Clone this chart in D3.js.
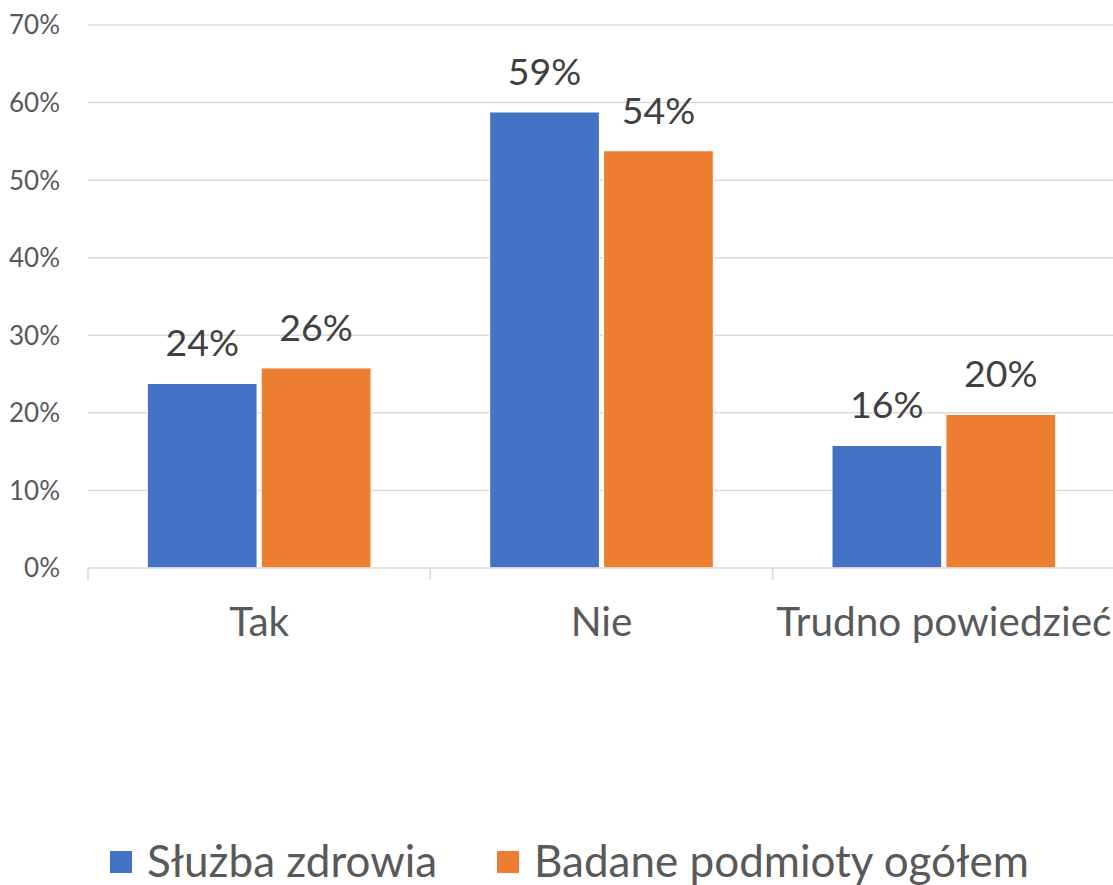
<!DOCTYPE html>
<html>
<head>
<meta charset="utf-8">
<script src="https://cdn.jsdelivr.net/npm/d3@7"></script>
<style>
  body { margin: 0; background: #fff; }
  text { font-family: Lato, "Open Sans", sans-serif; }
</style>
</head>
<body>
<script>
const svgWidth = 1113,
    svgHeight = 885,
    margin = { top: 25, right: 0, bottom: 317, left: 88 },
    width = svgWidth - margin.left - margin.right,
    height = svgHeight - margin.top - margin.bottom;

// data
var categories = ["Tak", "Nie", "Trudno powiedzieć"];
var seriesNames = ["Służba zdrowia", "Badane podmioty ogółem"];
var sluzbaZdrowia = [23.8, 58.8, 15.8];
var badanePodmioty = [25.8, 53.8, 19.8];
var yTicks = [0, 10, 20, 30, 40, 50, 60, 70];
var colors = ["#4472c4", "#ed7d31"];

var series = [sluzbaZdrowia, badanePodmioty];

var svg = d3.select("body").append("svg")
    .attr("width", svgWidth)
    .attr("height", svgHeight);

var g = svg.append("g")
    .attr("transform", "translate(" + margin.left + "," + margin.top + ")");

var x0 = d3.scaleBand()
    .domain(categories)
    .range([0, width + 2])
    .paddingInner(0)
    .paddingOuter(0);

var x1 = d3.scaleBand()
    .domain([0, 1])
    .range([0, x0.bandwidth()])
    .paddingInner(0.035)
    .paddingOuter(0.52);

var y = d3.scaleLinear()
    .domain([0, 70])
    .range([height, 0]);

// gridlines
g.append("g")
    .selectAll("line")
    .data(yTicks.slice(1))
    .enter().append("line")
    .attr("x1", 0)
    .attr("x2", width)
    .attr("y1", function (d) { return y(d); })
    .attr("y2", function (d) { return y(d); })
    .attr("stroke", "#d9d9d9")
    .attr("stroke-width", 1.5);

// y labels
g.append("g")
    .selectAll("text")
    .data(yTicks)
    .enter().append("text")
    .attr("x", -28)
    .attr("y", function (d) { return y(d); })
    .attr("dy", "0.36em")
    .attr("text-anchor", "end")
    .attr("font-size", 26)
    .attr("fill", "#595959")
    .text(function (d) { return d + "%"; });

// bars
var groups = g.selectAll(".cat")
    .data(categories)
    .enter().append("g")
    .attr("class", "cat")
    .attr("transform", function (d) { return "translate(" + x0(d) + ",0)"; });

groups.selectAll("rect")
    .data(function (d, i) { return series.map(function (s, j) { return { s: j, v: s[i] }; }); })
    .enter().append("rect")
    .attr("x", function (d) { return x1(d.s); })
    .attr("width", x1.bandwidth())
    .attr("y", function (d) { return y(d.v); })
    .attr("height", function (d) { return height - y(d.v); })
    .attr("fill", function (d) { return colors[d.s]; })
    .attr("stroke", "#fff")
    .attr("stroke-width", 1.2);

groups.selectAll(".lbl")
    .data(function (d, i) { return series.map(function (s, j) { return { s: j, v: s[i] }; }); })
    .enter().append("text")
    .attr("class", "lbl")
    .attr("x", function (d) { return x1(d.s) + x1.bandwidth() / 2; })
    .attr("y", function (d) { return y(d.v) - 27; })
    .attr("text-anchor", "middle")
    .attr("font-size", 37.5)
    .attr("fill", "#404040")
    .text(function (d) { return Math.round(d.v) + "%"; });

// x axis
var axis = g.append("g").attr("transform", "translate(0," + height + ")");
axis.append("line")
    .attr("x1", 0).attr("x2", width)
    .attr("stroke", "#d9d9d9").attr("stroke-width", 1.5);
axis.selectAll(".tick")
    .data(categories.concat([null]))
    .enter().append("line")
    .attr("class", "tick")
    .attr("x1", function (d, i) { return i * x0.step(); })
    .attr("x2", function (d, i) { return i * x0.step(); })
    .attr("y1", 0).attr("y2", 12)
    .attr("stroke", "#d9d9d9").attr("stroke-width", 1.5);
axis.selectAll(".catlbl")
    .data(categories)
    .enter().append("text")
    .attr("class", "catlbl")
    .attr("x", function (d) { return x0(d) + x0.bandwidth() / 2; })
    .attr("y", 68)
    .attr("text-anchor", "middle")
    .attr("font-size", 40.5)
    .attr("fill", "#595959")
    .text(function (d) { return d; });

// legend
var legendX = [110, 497];
var legend = svg.append("g");
seriesNames.forEach(function (name, i) {
    legend.append("rect")
        .attr("x", legendX[i]).attr("y", 851)
        .attr("width", 22).attr("height", 22)
        .attr("fill", colors[i]);
    legend.append("text")
        .attr("x", legendX[i] + 37).attr("y", 877)
        .attr("font-size", 44)
        .attr("fill", "#595959")
        .text(name);
});
</script>
</body>
</html>
